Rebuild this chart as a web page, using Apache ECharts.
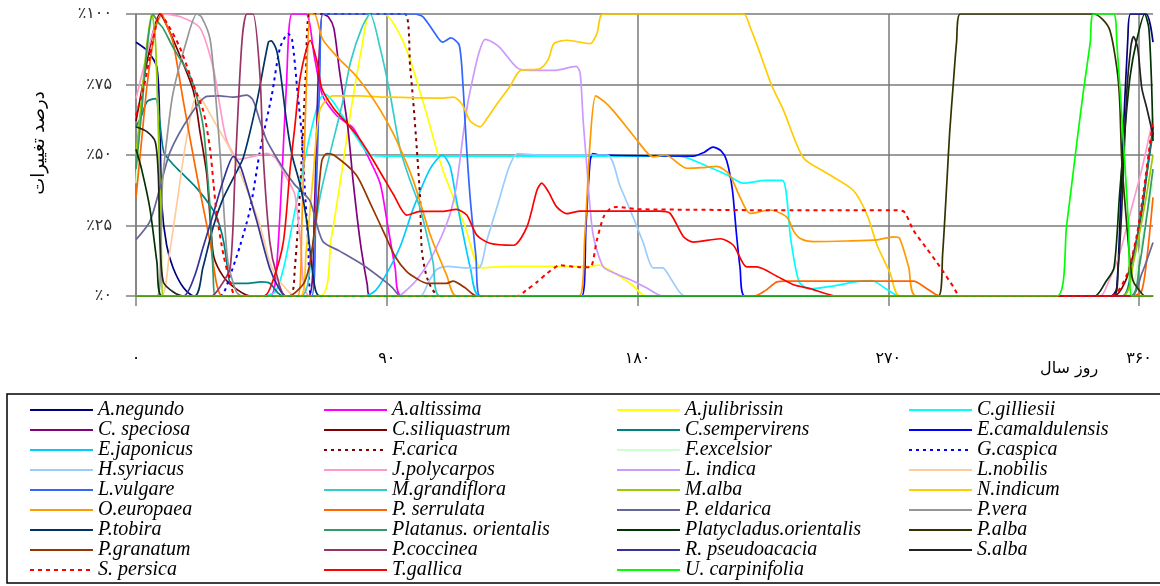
<!DOCTYPE html>
<html>
<head>
<meta charset="utf-8">
<script src="https://cdn.jsdelivr.net/npm/echarts@6/dist/echarts.min.js"></script>
<style>
  html, body { margin: 0; padding: 0; background: #fff; }
  #chart { width: 1160px; height: 586px; }
</style>
</head>
<body>
<div id="chart"></div>
<script>
// tick labels
var xTicks = [0, 90, 180, 270, 360]
var yTicks = [0, 25, 50, 75, 100]

// species names, in the order of the legend (row by row)
var names = [
  'A.negundo', 'A.altissima', 'A.julibrissin', 'C.gilliesii',
  'C. speciosa', 'C.siliquastrum', 'C.sempervirens', 'E.camaldulensis',
  'E.japonicus', 'F.carica', 'F.excelsior', 'G.caspica',
  'H.syriacus', 'J.polycarpos', 'L. indica', 'L.nobilis',
  'L.vulgare', 'M.grandiflora', 'M.alba', 'N.indicum',
  'O.europaea', 'P. serrulata', 'P. eldarica', 'P.vera',
  'P.tobira', 'Platanus. orientalis', 'Platycladus.orientalis', 'P.alba',
  'P.granatum', 'P.coccinea', 'R. pseudoacacia', 'S.alba',
  'S. persica', 'T.gallica', 'U. carpinifolia'
]

// [day of year, percent of change]
var aNegundo = [[0, 90], [4, 87], [7.5, 81], [8.5, 62], [9.3, 32], [11, 18], [13.3, 10], [17, 3], [21, 0], [350, 0], [352, 3], [354, 50], [356, 92], [357, 100], [362.5, 100], [365, 90]]
var aAltissima = [[0, 0], [48, 0], [50, 5], [52, 35], [54, 75], [56, 100], [61, 100], [64, 85], [67, 71], [72, 64], [78, 59.5], [83, 50], [87.6, 40], [90, 27], [93, 10], [95.4, 0], [365, 0]]
var aJulibrissin = [[0, 0], [66, 0], [70, 20], [74, 45], [77, 65], [81, 88], [84, 100], [89, 100], [96, 90], [103, 69], [110, 45], [118, 25], [124, 10], [135, 10.5], [150, 10.5], [163, 10.5], [166, 11], [172, 8], [178, 4], [183, 0], [365, 0]]
var cGilliesii = [[0, 0], [45, 0], [50, 1.5], [53, 10], [57, 30], [62, 55], [66, 70], [68, 71.5], [74, 64], [80, 55], [84, 50], [90, 49.6], [150, 49.6], [195, 49.6], [205, 46], [212, 43], [218, 40], [226, 41], [232, 41], [235, 20], [238, 5], [242, 2.5], [250, 3.5], [258, 5], [264, 5.5], [270, 2], [274, 0], [365, 0]]
var cSpeciosa = [[0, 0], [62, 0], [64, 30], [65.5, 80], [67, 100], [69, 99], [71, 95], [73, 80], [76, 60], [78, 40], [80.5, 19], [83, 4], [84, 0], [365, 0]]
var cSiliquastrum = [[0, 62], [3, 78], [6, 93], [8.6, 100], [11, 96], [14.6, 88], [20.5, 73], [23, 58], [25.4, 43], [27.7, 15], [30, 9], [34, 4], [41, 0], [351, 0], [355, 5], [358, 15], [361, 30], [363, 45], [365, 60]]
var cSempervirens = [[0, 60], [2, 64], [4, 69], [7, 70], [8.5, 62], [10, 51], [13, 47], [16, 44], [22, 38], [28, 30], [30, 25], [31.5, 19], [33, 9], [34, 4.5], [40, 4.5], [45, 5], [48, 4.5], [51, 1], [53, 0], [354, 0], [357, 8], [360, 25], [363, 45], [365, 58]]
var eCamaldulensis = [[0, 0], [160, 0], [161.5, 25], [163, 48], [164, 50.5], [166, 50], [200, 49.6], [204, 51], [207, 52.8], [210, 51.5], [212, 48], [214, 38], [215.5, 22], [216.8, 10], [218.5, 0], [365, 0]]
var eJaponicus = [[0, 0], [82, 0], [86, 2], [90, 8], [95, 18], [99.5, 31], [105.5, 45], [110, 50], [112.7, 46], [115, 34], [117.4, 22], [120, 10], [123.5, 0], [365, 0]]
var fCarica = [[0, 0], [55, 0], [57, 10], [59, 40], [61, 80], [62.5, 100], [96.5, 100], [98.4, 81], [99.5, 69], [100.8, 52], [102, 34], [102.6, 16], [104.8, 5.5], [109, 0], [365, 0]]
var fExcelsior = [[0, 40], [3, 80], [6, 100], [8, 60], [9.5, 0], [355, 0], [360, 15], [365, 40]]
var gCaspica = [[0, 0], [30, 0], [34, 8], [37.4, 18], [41, 31], [44.6, 52], [48.7, 71], [51.7, 88], [54.6, 93], [56, 91], [58, 72], [59.5, 57], [60.7, 36], [61.8, 19], [63, 0], [365, 0]]
var hSyriacus = [[0, 0], [102, 0], [105, 5], [108, 9.5], [112, 10.5], [118, 10], [123, 10], [126, 20], [130, 33], [134, 46], [137, 50.5], [145, 50], [169, 50], [173.7, 39], [178.4, 28], [182, 19], [185.6, 10], [189, 10], [192, 6], [195, 1.5], [197, 0], [365, 0]]
var jPolycarpos = [[0, 70], [3, 82], [6, 93], [9.8, 100], [16, 99], [23, 95], [27.7, 81], [30, 68], [32.6, 55], [37, 48.5], [42, 49.5], [47, 50.6], [50, 49], [54, 42], [57, 36], [59, 20], [62.5, 0], [346, 0], [349, 5], [353, 15], [357, 30], [361, 45], [365, 63]]
var lIndica = [[0, 0], [94, 0], [97, 2], [101, 6], [105.5, 12.7], [110, 22], [113, 30], [115, 39], [117.4, 57], [119, 68], [121, 77.7], [123, 86], [125.3, 91], [128, 90], [130.7, 88], [136.7, 81], [141.5, 80], [150, 80], [158, 81.4], [159.4, 79], [160.5, 62], [161.8, 46], [164, 22], [167.7, 10.3], [172, 8], [178, 5.5], [183, 3], [189, 0], [365, 0]]
var lNobilis = [[0, 0], [9, 0], [12, 15], [15, 35], [18, 55], [21.8, 71], [24, 69], [28, 62], [33.8, 52], [38.5, 41], [44.5, 25], [48, 12], [51, 6], [54, 2.4], [57, 0], [365, 0]]
var lVulgare = [[0, 0], [63, 0], [64.5, 30], [66, 80], [67, 100], [100, 100], [103, 99], [106.7, 94], [110, 90], [113, 91.5], [116, 89], [117.4, 74], [118.5, 55], [120, 34], [122, 14], [123.5, 0], [365, 0]]
var mGrandiflora = [[0, 0], [59, 0], [63, 15], [66, 35], [70, 52], [74, 68], [77, 83], [81, 95], [84, 100], [87.6, 88], [91, 72.6], [94.8, 52], [98, 42], [102, 31], [106.6, 12], [109, 0], [365, 0]]
var mAlba = [[0, 50], [2, 70], [4, 90], [5.7, 100], [7, 90], [8, 60], [9, 25], [9.8, 0], [354, 0], [358, 12], [362, 32], [365, 50]]
var nIndicum = [[0, 0], [59, 0], [61, 15], [63.6, 43], [66, 66], [70.7, 71], [80, 71], [90, 70.5], [110, 70.2], [114, 70.5], [117, 68], [120, 62], [123.5, 60], [126, 63], [129.5, 68], [134, 74], [138, 80], [145, 80.6], [148, 84], [150, 89.5], [154.6, 90.7], [163, 89.5], [165.4, 93], [167.7, 100], [218, 100], [220.4, 95.4], [224, 86], [228, 75], [232.4, 65.8], [239.5, 49], [248, 43.5], [257.4, 37.5], [262.3, 29], [266, 18], [270.7, 8], [274.2, 0], [365, 0]]
var oEuropaea = [[0, 0], [58, 0], [59.5, 25], [61, 70], [62.5, 100], [64, 100], [67, 91], [73, 84], [79, 78], [85, 70], [89.4, 63], [93.6, 55], [99.5, 41], [105.5, 22], [111.5, 7.4], [115, 0], [159, 0], [161, 20], [163, 55], [165, 71], [168, 69], [171, 66], [176, 60], [180, 55], [185.6, 49.3], [190, 50], [197.7, 45.3], [203, 45.5], [208.5, 46], [213, 43], [216.8, 35], [220.4, 29.3], [227.6, 30.5], [233.6, 28], [236, 23], [238.4, 20.4], [243, 19.3], [255, 19.5], [266, 19.9], [271.8, 21], [274, 20.5], [277.3, 10.3], [280, 0], [365, 0]]
var pSerrulata = [[0, 35], [2, 55], [4, 75], [7, 95], [9.2, 100], [11, 96], [13.3, 90], [17, 69], [21.8, 43], [26.6, 19], [29, 4], [31, 0], [222, 0], [226, 2], [230, 5], [233.6, 5.3], [260, 5.3], [279, 5.3], [284, 2.5], [288.6, 0], [358, 0], [361, 2], [363, 15], [365, 35]]
var pEldarica = [[0, 20], [5, 26.5], [8.5, 38], [12.2, 51], [19.4, 64], [25.4, 70.8], [30, 71], [35, 70.5], [39.8, 71.2], [42, 69.5], [44.5, 62], [47, 55], [52.8, 45.3], [57, 39.4], [59.5, 37], [62.5, 33.6], [67, 19.4], [73, 16], [81.5, 11], [89.4, 5.2], [92, 3], [95, 0], [357, 0], [361, 8], [365, 19]]
var pVera = [[0, 0], [7.5, 0], [8.6, 5], [9.5, 40], [11, 55], [13.3, 72], [18.2, 90.7], [21.8, 100], [23.5, 99], [26.6, 91], [29, 66], [30.2, 50], [31.3, 34], [33, 12], [36, 1.5], [38, 0], [365, 0]]
var pTobira = [[0, 0], [21, 0], [24, 10], [27.7, 24.5], [31, 34], [35, 42], [38.5, 49], [43.4, 69], [47.5, 90], [48.5, 90.5], [50.5, 87], [52, 78], [54, 62], [56, 50], [59, 39], [61.3, 26.5], [63.6, 7], [66, 0], [365, 0]]
var platanus = [[0, 45], [2, 65], [4, 88], [6, 100], [8, 97], [9.7, 95], [13.4, 88], [19.4, 78], [22, 70], [24.2, 59.5], [25.5, 45], [26.6, 31], [27.7, 7.5], [28.5, 0], [357, 0], [360, 10], [363, 30], [365, 45]]
var platycladus = [[0, 52], [2, 45], [5, 31], [7.5, 12], [9.3, 0], [344, 0], [348, 5], [351, 10], [353, 36], [355, 60], [356.8, 78], [359, 90], [362, 100], [363.5, 95], [364.5, 75], [365, 55]]
var pAlba = [[0, 0], [288, 0], [289.5, 15], [291, 40], [292, 57.6], [293.3, 75], [294.5, 90], [295.8, 100], [343.6, 100], [347, 98], [349.6, 94], [352, 81], [353, 70], [353.8, 48], [355.6, 25], [357, 10], [358, 5], [360.4, 1.6], [362, 0], [365, 0]]
var pGranatum = [[0, 0], [55, 0], [58, 2], [60.5, 5], [62.5, 12], [65, 31], [66.7, 48], [68.5, 50.5], [71, 50], [79, 43], [84, 33], [89.4, 21.6], [93, 14], [97, 8.8], [101, 6], [104.4, 4.5], [111.5, 4.5], [113.8, 5.3], [118, 3], [122.3, 0], [365, 0]]
var pCoccinea = [[0, 0], [27, 0], [30, 3], [33.8, 10], [35.6, 45], [38, 90], [39.8, 100], [42, 100], [44.5, 78], [45.7, 49], [48, 19.4], [50.5, 7.5], [54, 0], [365, 0]]
var rPseudoacacia = [[0, 0], [17, 0], [21, 7], [24, 17], [27.7, 29], [31, 40], [35, 49.5], [37, 47], [38.5, 43], [43.4, 26.4], [48, 9.8], [51.7, 2], [54, 0], [365, 0]]
var sAlba = [[0, 60], [3.9, 58.3], [6.9, 54.7], [8, 43], [8.6, 19.4], [9.8, 5], [13.4, 1.4], [17, 0], [351, 0], [352.5, 10], [353.8, 31], [355.6, 72.5], [357, 88], [358, 92], [359.5, 88], [361, 73.6], [362.8, 66.5], [365, 57]]
var sPersica = [[0, 64], [3, 75], [6, 90], [8.6, 100], [11, 97], [15.8, 88], [20.6, 75], [24.2, 65.4], [26.6, 52], [27.8, 40], [29, 28.7], [31.4, 14.5], [33.8, 5], [36, 0], [137, 0], [140, 2], [144, 5], [147.5, 8], [152.2, 10.9], [159.4, 10.2], [163, 10.2], [165.4, 19.8], [167.8, 28], [170.2, 31], [172.6, 31.6], [180, 30.8], [200, 30.6], [230, 30.4], [271.9, 30.4], [275.5, 30], [279, 23.3], [283.8, 16.8], [288.6, 10.3], [293.4, 3.2], [295.8, 0], [350, 0], [355.6, 7.5], [359.2, 21.6], [361.6, 37], [364, 54.7], [365, 62]]
var tGallica = [[0, 0], [46, 0], [49, 5], [52.9, 19.3], [55.3, 45], [57, 60], [59, 78], [62.5, 90.6], [65, 83], [66.7, 73.6], [70.9, 66.6], [75, 62], [79.3, 57], [84, 50], [89.4, 41], [92.4, 36], [97.2, 28.7], [102, 30], [110, 30], [115, 30.7], [118.7, 28.7], [122.3, 21.6], [127, 18.7], [135.5, 18], [140.3, 24.5], [143.9, 37.5], [145.6, 40], [148, 37], [151, 31.6], [154.6, 29.2], [159.4, 30.1], [188, 30.1], [191.7, 29.3], [196.5, 21], [200, 19.1], [209.7, 20.3], [214.4, 18], [219.2, 10.3], [222.8, 10.3], [230, 7], [236, 4], [242, 2.6], [251.5, 0], [365, 0]]
var uCarpinifolia = [[0, 0], [330.5, 0], [334, 25], [337.7, 54.7], [340, 72.5], [342.5, 90], [343.6, 100], [350.8, 100], [352, 90], [354.4, 54.7], [356.2, 25], [357.4, 0], [365, 0]]

var values = [
  aNegundo, aAltissima, aJulibrissin, cGilliesii,
  cSpeciosa, cSiliquastrum, cSempervirens, eCamaldulensis,
  eJaponicus, fCarica, fExcelsior, gCaspica,
  hSyriacus, jPolycarpos, lIndica, lNobilis,
  lVulgare, mGrandiflora, mAlba, nIndicum,
  oEuropaea, pSerrulata, pEldarica, pVera,
  pTobira, platanus, platycladus, pAlba,
  pGranatum, pCoccinea, rPseudoacacia, sAlba,
  sPersica, tGallica, uCarpinifolia
]

var colors = [
  '#000080', '#FF00FF', '#FFFF00', '#00FFFF',
  '#800080', '#800000', '#008080', '#0000FF',
  '#00CCFF', '#800000', '#CCFFCC', '#0000FF',
  '#99CCFF', '#FF99CC', '#CC99FF', '#FFCC99',
  '#3366FF', '#33CCCC', '#99CC00', '#FFCC00',
  '#FF9900', '#FF6600', '#666699', '#969696',
  '#003366', '#339966', '#003300', '#333300',
  '#993300', '#993366', '#333399', '#222222',
  '#FF0000', '#FF0000', '#00FF00'
]
var dashed = { 'F.carica': [3, 4], 'G.caspica': [3, 4], 'S. persica': [4, 4] }

function toFa (n) {
  return String(n).replace(/\d/g, function (d) { return '۰۱۲۳۴۵۶۷۸۹'[d] })
}

var chart = echarts.init(document.getElementById('chart'))

var series = []
for (var i = 0; i < names.length; i++) {
  series.push({
    name: names[i],
    type: 'line',
    data: values[i],
    symbol: 'none',
    smooth: 0.25,
    color: colors[i],
    lineStyle: {
      width: dashed[names[i]] ? 2 : 1.7,
      color: colors[i],
      type: dashed[names[i]] || 'solid'
    },
    emphasis: { disabled: true }
  })
}

// four legend columns, items read row by row
var legendLefts = [29, 323, 616, 908]
var legends = legendLefts.map(function (left, c) {
  return {
    orient: 'vertical',
    left: left,
    top: 400,
    padding: 0,
    itemWidth: 63,
    itemHeight: 12,
    itemGap: 0,
    itemStyle: { opacity: 0 },
    data: names.filter(function (n, k) { return k % 4 === c }),
    textStyle: {
      fontFamily: 'Liberation Serif',
      fontStyle: 'italic',
      fontSize: 20,
      lineHeight: 19.7,
      color: '#000'
    }
  }
})

chart.setOption({
  backgroundColor: '#fff',
  animation: false,
  grid: { left: 136, right: 7, top: 14, bottom: 290 },
  legend: legends,
  graphic: [{
    type: 'rect',
    shape: { x: 7, y: 394, width: 1160, height: 189 },
    style: { fill: 'none', stroke: '#000', lineWidth: 1.5 }
  }],
  xAxis: {
    type: 'value',
    min: 0,
    max: 365,
    interval: 90,
    name: 'روز سال',
    nameLocation: 'end',
    nameGap: -113,
    nameTextStyle: {
      fontFamily: 'DejaVu Sans',
      fontSize: 16,
      color: '#000',
      verticalAlign: 'top',
      padding: [65, 0, 0, 0]
    },
    axisLine: { show: true, lineStyle: { color: '#808080', width: 1.5 } },
    axisTick: { show: true, length: 10, customValues: xTicks, lineStyle: { color: '#808080', width: 1.5 } },
    axisLabel: {
      margin: 55,
      customValues: xTicks,
      fontFamily: 'DejaVu Sans',
      fontSize: 16,
      color: '#000',
      formatter: function (v) { return xTicks.indexOf(v) >= 0 ? toFa(v) : '' }
    },
    splitLine: { show: true, lineStyle: { color: '#7a7a7a', width: 1.5 } }
  },
  yAxis: {
    type: 'value',
    min: 0,
    max: 100,
    interval: 25,
    name: 'درصد تغییرات',
    nameLocation: 'middle',
    nameGap: 88,
    nameRotate: 90,
    nameTextStyle: { fontFamily: 'DejaVu Sans', fontSize: 18, color: '#000', padding: [0, 0, 0, 24] },
    axisLine: { show: true, lineStyle: { color: '#808080', width: 1.5 } },
    axisTick: { show: true, length: 10, lineStyle: { color: '#808080', width: 1.5 } },
    axisLabel: {
      margin: 24,
      fontFamily: 'DejaVu Sans',
      fontSize: 16,
      color: '#333',
      formatter: function (v) { return yTicks.indexOf(v) >= 0 ? '٪' + toFa(v) : '' }
    },
    splitLine: { show: true, lineStyle: { color: '#7a7a7a', width: 1.5 } }
  },
  series: series
})
</script>
</body>
</html>
